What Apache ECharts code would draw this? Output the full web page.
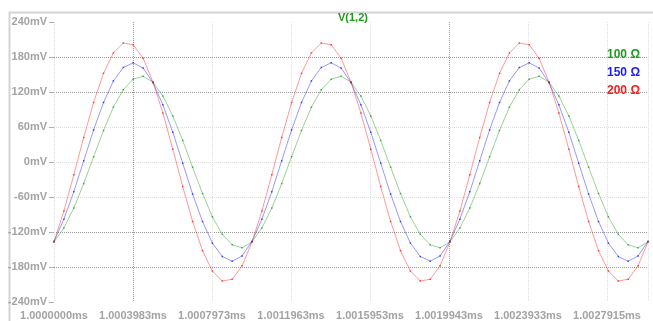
<!DOCTYPE html>
<html>
<head>
<meta charset="utf-8">
<script src="https://cdn.jsdelivr.net/npm/echarts@6/dist/echarts.min.js"></script>
<style>
html,body{margin:0;padding:0;background:#fff;}
#chart{width:653px;height:321px;}
</style>
</head>
<body>
<div id="chart"></div>
<script>
// time offset from 1.0000000 ms, in ns
var timeNs = [0,50,100,150,200,250,300,350,400,450,500,550,600,650,700,750,800,850,900,950,
  1000,1050,1100,1150,1200,1250,1300,1350,1400,1450,1500,1550,1600,1650,1700,1750,1800,1850,1900,1950,
  2000,2050,2100,2150,2200,2250,2300,2350,2400,2450,2500,2550,2600,2650,2700,2750,2800,2850,2900,2950,3000];
// V(1,2) in mV
var v100 = [-137,-113,-79,-37,9,54,94,124,142,147,137,113,79,37,-9,-54,-94,-124,-142,-147,
  -137,-113,-79,-37,9,54,94,124,142,147,137,113,79,37,-9,-54,-94,-124,-142,-147,
  -137,-113,-79,-37,9,54,94,124,142,147,137,113,79,37,-9,-54,-94,-124,-142,-147,-137];
var v150 = [-136,-98,-51,2,55,102,139,162,170,161,136,98,51,-2,-55,-102,-139,-162,-170,-161,
  -136,-98,-51,2,55,102,139,162,170,161,136,98,51,-2,-55,-102,-139,-162,-170,-161,
  -136,-98,-51,2,55,102,139,162,170,161,136,98,51,-2,-55,-102,-139,-162,-170,-161,-136];
var v200 = [-137,-84,-22,42,102,152,187,204,201,178,137,84,22,-42,-102,-152,-187,-204,-201,-178,
  -137,-84,-22,42,102,152,187,204,201,178,137,84,22,-42,-102,-152,-187,-204,-201,-178,
  -137,-84,-22,42,102,152,187,204,201,178,137,84,22,-42,-102,-152,-187,-204,-201,-178,-137];
var xTickLabels = ['1.0000000ms','1.0003983ms','1.0007973ms','1.0011963ms','1.0015953ms','1.0019943ms','1.0023933ms','1.0027915ms'];
var seriesNames = ['100 \u03A9','150 \u03A9','200 \u03A9'];
var seriesColors = ['#1f9a1f','#1a1aff','#ff1a1a'];
var titleText = 'V(1,2)';

function pairs(v){ return timeNs.map(function(t,i){ return [t, v[i]]; }); }
var allValues = [v100, v150, v200];

var chart = echarts.init(document.getElementById('chart'), null, {renderer:'canvas'});
var labelFont = {color:'#a3a3a3', fontFamily:'Liberation Sans, Arial, sans-serif', fontWeight:'bold', fontSize:11};
var dark = '#9a9a9a', light = '#dedede';
chart.setOption({
  animation:false,
  backgroundColor:'#ffffff',
  graphic:[{type:'rect', left:7, top:10, shape:{width:700, height:400},
    style:{fill:'none', stroke:'#d4d4d4', lineWidth:2}, silent:true}],
  title:{text:titleText, left:333, top:7,
    textStyle:{color:'#1f9a1f', fontFamily:'Liberation Sans, Arial, sans-serif', fontWeight:'bold', fontSize:11}},
  legend:{orient:'vertical', right:8, top:44, itemGap:6, itemWidth:0, itemHeight:0, icon:'none',
    data: seriesNames.map(function(n,i){ return {name:n, textStyle:{color:seriesColors[i]}}; }),
    textStyle:{fontFamily:'Liberation Sans, Arial, sans-serif', fontWeight:'bold', fontSize:12, padding:0}},
  grid:{left:54, right:5, top:22, bottom:19, containLabel:false},
  xAxis:{type:'value', min:0, max:3000, interval:399,
    axisLine:{show:false}, axisTick:{show:false},
    axisLabel:Object.assign({margin:8, showMaxLabel:false, formatter:function(v){
      var i = Math.round(v/399); return (Math.abs(v - i*399) < 1 && xTickLabels[i]) ? xTickLabels[i] : '';
    }}, labelFont),
    splitLine:{show:true, lineStyle:{type:[1,1], width:1,
      color:[light, dark, light, light, light, dark, light, light, light]}}},
  yAxis:{type:'value', min:-240, max:240, interval:60,
    axisLine:{show:false},
    axisTick:{show:true, length:5, lineStyle:{color:'#b0b0b0'}},
    axisLabel:Object.assign({margin:7, formatter:function(v){ return v + 'mV'; }}, labelFont),
    splitLine:{show:true, lineStyle:{type:[1,1], width:1,
      color:['rgba(0,0,0,0)', dark, dark, light, light, light, dark, dark, 'rgba(0,0,0,0)']}}},
  series: allValues.map(function(v,i){
    return {name:seriesNames[i], type:'line', data:pairs(v), color:seriesColors[i],
      showSymbol:true, symbol:'rect', symbolSize:1.5, smooth:false,
      lineStyle:{width:1, opacity:0.45, color:seriesColors[i]},
      itemStyle:{color:seriesColors[i], opacity:0.8}};
  })
});
</script>
</body>
</html>
